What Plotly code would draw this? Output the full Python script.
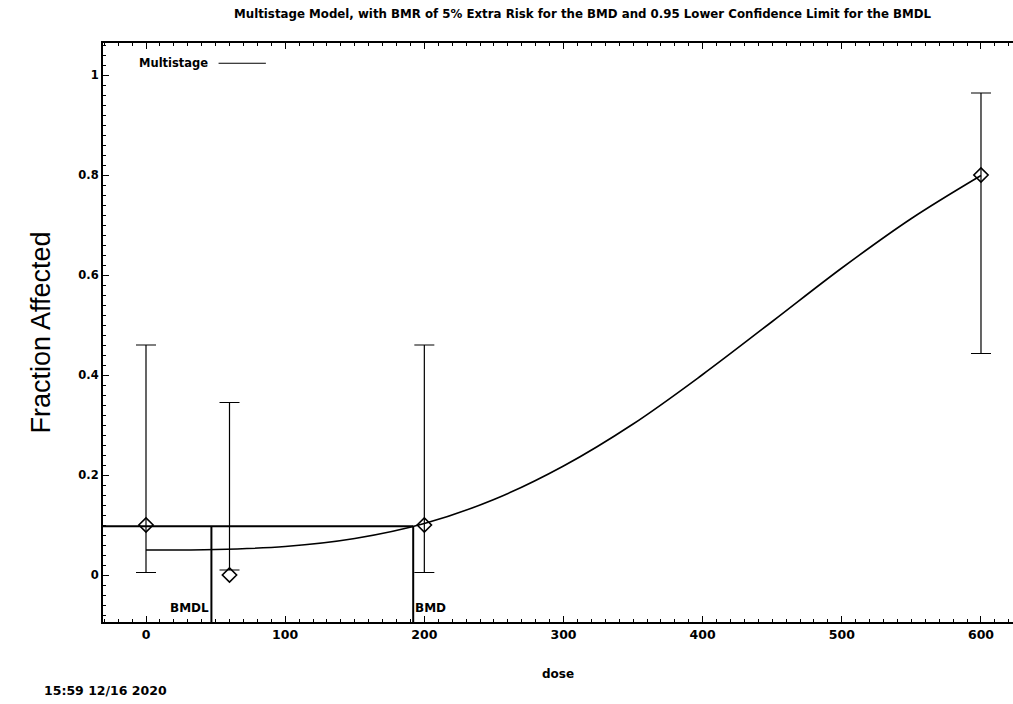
import plotly.graph_objects as go

# Observed data
dose = [0, 60, 200, 600]
response = [0.1, 0.0, 0.1, 0.8]
ci_lower = [0.005, 0.01, 0.005, 0.443]
ci_upper = [0.46, 0.345, 0.46, 0.964]

# Fitted multistage curve
curve_dose = [0, 50, 100, 150, 200, 250, 300, 350, 400, 450, 500, 550, 600]
curve_resp = [0.05, 0.051, 0.057, 0.073, 0.103, 0.151, 0.218, 0.302, 0.401, 0.507, 0.614, 0.713, 0.799]

bmd = 192
bmdl = 47
bmr_level = 0.0975

x_range = [-30.9, 623]
y_range = [-0.094, 1.064]

title_text = "Multistage Model, with BMR of 5% Extra Risk for the BMD and 0.95 Lower Confidence Limit for the BMDL"
date_text = "15:59 12/16 2020"

BFONT = "DejaVu Sans, Verdana, sans-serif"
AFONT = "Liberation Sans, Arial, sans-serif"

fig = go.Figure()

# curve
fig.add_trace(go.Scatter(x=curve_dose, y=curve_resp, mode="lines", line=dict(color="black", width=1.6, shape="spline"),
                         hoverinfo="skip", showlegend=False))

# data with error bars
fig.add_trace(go.Scatter(
    x=dose, y=response, mode="markers",
    marker=dict(symbol="diamond-open", size=11, color="black", line=dict(width=1.6, color="black")),
    error_y=dict(type="data", symmetric=False,
                 array=[u - r for u, r in zip(ci_upper, response)],
                 arrayminus=[r - l for r, l in zip(response, ci_lower)],
                 color="black", thickness=1.2, width=10),
    showlegend=False))

# BMD / BMDL lines
fig.add_trace(go.Scatter(x=[x_range[0], bmd], y=[bmr_level, bmr_level], mode="lines",
                         line=dict(color="black", width=2), showlegend=False, hoverinfo="skip"))
fig.add_trace(go.Scatter(x=[bmdl, bmdl], y=[y_range[0], bmr_level], mode="lines",
                         line=dict(color="black", width=2), showlegend=False, hoverinfo="skip"))
fig.add_trace(go.Scatter(x=[bmd, bmd], y=[y_range[0], bmr_level], mode="lines",
                         line=dict(color="black", width=2), showlegend=False, hoverinfo="skip"))

fig.add_annotation(x=bmdl, y=-0.065, text="<b>BMDL</b>", showarrow=False, xanchor="right", yanchor="middle",
                   font=dict(family=BFONT, size=12, color="black"))
fig.add_annotation(x=bmd, y=-0.065, text="<b>BMD</b>", showarrow=False, xanchor="left", yanchor="middle",
                   font=dict(family=BFONT, size=12, color="black"))

# legend (text then line)
fig.add_annotation(xref="paper", yref="paper", x=0.037, y=0.965, text="<b>Multistage</b>", showarrow=False,
                   xanchor="left", yanchor="middle", font=dict(family=BFONT, size=11.5, color="black"))
fig.add_shape(type="line", xref="paper", yref="paper", x0=0.127, x1=0.179, y0=0.965, y1=0.965,
              line=dict(color="black", width=1))

# title
fig.add_annotation(xref="paper", yref="paper", x=0.528, y=1.0, yshift=29, text="<b>" + title_text + "</b>",
                   showarrow=False, xanchor="center", yanchor="middle", font=dict(family=BFONT, size=11.8, color="black"))
# date
fig.add_annotation(xref="paper", yref="paper", x=-0.067, y=0, yshift=-68, text="<b>" + date_text + "</b>",
                   showarrow=False, xanchor="left", yanchor="middle", font=dict(family=BFONT, size=12.5, color="black"))

fig.update_layout(
    xaxis=dict(range=x_range, tickmode="linear", tick0=0, dtick=100, ticklen=6, tickwidth=1,
               showline=True, linecolor="black", linewidth=2, mirror="allticks", ticks="inside",
               tickcolor="black", showgrid=False, zeroline=False,
               tickfont=dict(family=BFONT, size=12.5, color="black", weight="bold"),
               minor=dict(dtick=10, tick0=0, ticks="inside", ticklen=3, tickcolor="black", tickwidth=1, showgrid=False),
               title=dict(text="<b>dose</b>", font=dict(family=BFONT, size=12, color="black"), standoff=29)),
    yaxis=dict(range=y_range, tickmode="linear", tick0=0, dtick=0.2, ticklen=6, tickwidth=1,
               showline=True, linecolor="black", linewidth=2, mirror=False, ticks="inside",
               tickcolor="black", showgrid=False, zeroline=False,
               tickfont=dict(family=BFONT, size=11.5, color="black", weight="bold"),
               minor=dict(dtick=0.02, tick0=0, ticks="inside", ticklen=3, tickcolor="black", tickwidth=1, showgrid=False),
               title=dict(text="Fraction Affected", font=dict(family=AFONT, size=27, color="black"), standoff=20)),
    width=1013, height=704, margin=dict(l=103, r=0, t=43, b=82),
    paper_bgcolor="white", plot_bgcolor="white", showlegend=False)

fig.write_html("out.html")
